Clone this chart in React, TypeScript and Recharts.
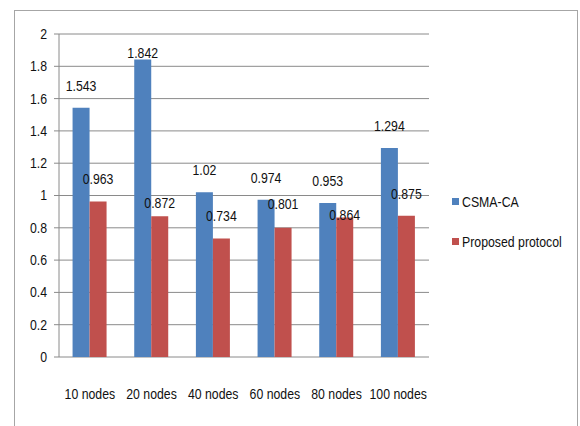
import { Bar, BarChart, CartesianGrid, LabelList, XAxis, YAxis } from "recharts";

const BLUE = "#4F81BD";
const RED = "#C0504D";
const AXIS_GRAY = "#8a8a8a";
const TEXT = "#111";
// Liberation Sans squeezed horizontally stands in for a narrow face
const FONT = "'Liberation Sans', Arial, sans-serif";
const SQUEEZE = 0.82;

const categories = ["10 nodes", "20 nodes", "40 nodes", "60 nodes", "80 nodes", "100 nodes"];
const csmaCa = [1.543, 1.842, 1.02, 0.974, 0.953, 1.294];
const proposed = [0.963, 0.872, 0.734, 0.801, 0.864, 0.875];
const yTicks = [0, 0.2, 0.4, 0.6, 0.8, 1, 1.2, 1.4, 1.6, 1.8, 2];
const edgeTicks = [0, 1, 2, 3, 4, 5, 6];

// a few labels sit lower than the rest so they don't collide
const csmaLabelDrop = [0, 16, 0, 0, 0, 0];
const proposedLabelDrop = [0, 9, 0, -2, 20, 0];

const data = categories.map((name, i) => ({
  name,
  idx: i + 0.5,
  csma: csmaCa[i],
  proposed: proposed[i],
}));

function NarrowText({
  x,
  y,
  anchor,
  children,
}: {
  x: number;
  y: number;
  anchor: "start" | "middle" | "end";
  children: any;
}) {
  return (
    <g transform={`translate(${x},${y})`}>
      <text
        transform={`scale(${SQUEEZE},1)`}
        textAnchor={anchor}
        dominantBaseline="central"
        fontSize={15}
        fontFamily={FONT}
        fill={TEXT}
      >
        {children}
      </text>
    </g>
  );
}

function valueLabel(drops: number[]) {
  return (props: any) => {
    const { x, y, width, index, value } = props;
    return (
      <NarrowText x={Number(x) + Number(width) / 2} y={Number(y) - 22 + drops[index]} anchor="middle">
        {value}
      </NarrowText>
    );
  };
}

const CategoryTick = (props: any) => (
  <NarrowText x={props.x} y={props.y} anchor="middle">
    {props.payload.value}
  </NarrowText>
);

const ValueTick = (props: any) => (
  <NarrowText x={props.x} y={props.y} anchor="end">
    {props.payload.value}
  </NarrowText>
);

function LegendBox() {
  const items = [
    { label: "CSMA-CA", color: BLUE },
    { label: "Proposed protocol", color: RED },
  ];
  return (
    <div
      style={{
        position: "absolute",
        left: 452,
        top: 191,
        fontFamily: FONT,
        fontSize: 15,
        color: TEXT,
      }}
    >
      {items.map((it) => (
        <div key={it.label} style={{ display: "flex", alignItems: "center", height: 20, marginBottom: 20 }}>
          <span style={{ width: 7, height: 7, background: it.color, marginRight: 3, flex: "none" }} />
          <span
            style={{
              display: "inline-block",
              whiteSpace: "nowrap",
              transform: `scaleX(${SQUEEZE})`,
              transformOrigin: "left center",
            }}
          >
            {it.label}
          </span>
        </div>
      ))}
    </div>
  );
}

export default function App() {
  return (
    <div
      style={{
        position: "absolute",
        left: 0,
        top: 0,
        width: 580,
        height: 426,
        background: "#fff",
        overflow: "hidden",
      }}
    >
      <div
        style={{
          position: "absolute",
          left: 14,
          top: 10,
          width: 564,
          height: 430,
          border: "1px solid #a6a6a6",
          boxSizing: "border-box",
        }}
      />
      <BarChart
        width={580}
        height={426}
        data={data}
        margin={{ top: 34, right: 151, left: 0, bottom: 29 }}
        barCategoryGap="22%"
        barGap={0}
        style={{ position: "absolute", left: 0, top: 0 }}
      >
        <CartesianGrid vertical={false} stroke={AXIS_GRAY} strokeWidth={1} />
        <XAxis
          xAxisId="edges"
          type="number"
          dataKey="idx"
          domain={[0, 6]}
          ticks={edgeTicks}
          tickFormatter={() => ""}
          height={0}
          tickSize={6}
          axisLine={{ stroke: AXIS_GRAY }}
          tickLine={{ stroke: AXIS_GRAY }}
        />
        <XAxis
          dataKey="name"
          height={40}
          axisLine={false}
          tickLine={false}
          tickSize={0}
          tickMargin={37}
          interval={0}
          tick={<CategoryTick />}
        />
        <YAxis
          domain={[0, 2]}
          ticks={yTicks}
          width={59}
          tickSize={5}
          tickMargin={7}
          axisLine={{ stroke: AXIS_GRAY }}
          tickLine={{ stroke: AXIS_GRAY }}
          tick={<ValueTick />}
        />
        <Bar dataKey="csma" name="CSMA-CA" fill={BLUE} isAnimationActive={false}>
          <LabelList dataKey="csma" content={valueLabel(csmaLabelDrop)} />
        </Bar>
        <Bar dataKey="proposed" name="Proposed protocol" fill={RED} isAnimationActive={false}>
          <LabelList dataKey="proposed" content={valueLabel(proposedLabelDrop)} />
        </Bar>
      </BarChart>
      <LegendBox />
    </div>
  );
}
